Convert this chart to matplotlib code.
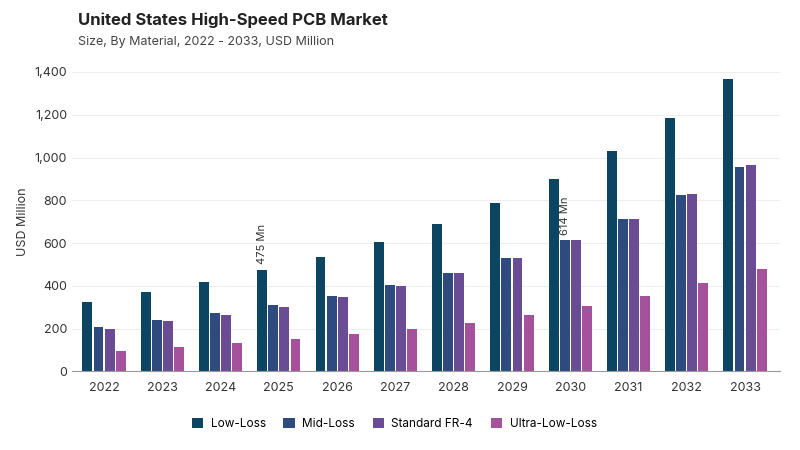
import matplotlib
matplotlib.use("Agg")
import matplotlib.pyplot as plt
import numpy as np

years = ["2022","2023","2024","2025","2026","2027","2028","2029","2030","2031","2032","2033"]
series_names = ["Low-Loss","Mid-Loss","Standard FR-4","Ultra-Low-Loss"]
low = [323,370,417,475,534,604,688,786,899,1030,1185,1365]
mid = [206,240,272,309,354,403,460,530,614,710,824,957]
fr4 = [200,234,265,302,347,398,458,530,614,712,827,963]
ultra = [97,113,130,150,172,196,228,262,304,354,412,480]
colors = ["#0b4562","#2f4a7e","#6a4c94","#a6519c"]

plt.rcParams['font.family'] = ['Inter', 'DejaVu Sans']
fig, ax = plt.subplots(figsize=(8, 4.5), dpi=100)
fig.subplots_adjust(left=0.09, right=0.975, top=0.84, bottom=0.175)
x = np.arange(len(years))
w = 0.17
for i, (vals, c, n) in enumerate(zip([low, mid, fr4, ultra], colors, series_names)):
    ax.bar(x + (i - 1.5) * w * 1.12, vals, w, color=c, label=n)

ax.text(x[3] - 1.5*w*1.12, low[3] + 25, "475 Mn", rotation=90, ha="center", va="bottom", fontsize=8, color="#333333")
ax.text(x[8] - 0.5*w*1.12, mid[8] + 25, "614 Mn", rotation=90, ha="center", va="bottom", fontsize=8, color="#333333")

ax.set_ylim(0, 1400)
ax.set_yticks(range(0, 1401, 200))
ax.set_yticklabels([f"{v:,}" for v in range(0, 1401, 200)])
ax.set_xticks(x)
ax.set_xticklabels(years)
ax.set_xlim(-0.55, 11.6)
ax.tick_params(axis='both', labelsize=9, colors="#333333", length=0)
ax.tick_params(axis='x', pad=8)
ax.grid(axis='y', color="#eeeeee", linewidth=0.8)
ax.set_axisbelow(True)
for s in ["top", "right", "left"]:
    ax.spines[s].set_visible(False)
ax.spines["bottom"].set_color("#999999")
ax.set_ylabel("USD Million", fontsize=9, color="#333333")

fig.text(0.097, 0.945, "United States High-Speed PCB Market", fontsize=12, fontweight="bold", color="#222222")
fig.text(0.097, 0.9, "Size, By Material, 2022 - 2033, USD Million", fontsize=9, color="#444444")
ax.legend(loc="upper center", bbox_to_anchor=(0.455, -0.12), ncol=4, frameon=False, fontsize=8.5,
          handlelength=1.0, handleheight=1.0, columnspacing=1.5, handletextpad=0.6)
fig.savefig("out.png")
